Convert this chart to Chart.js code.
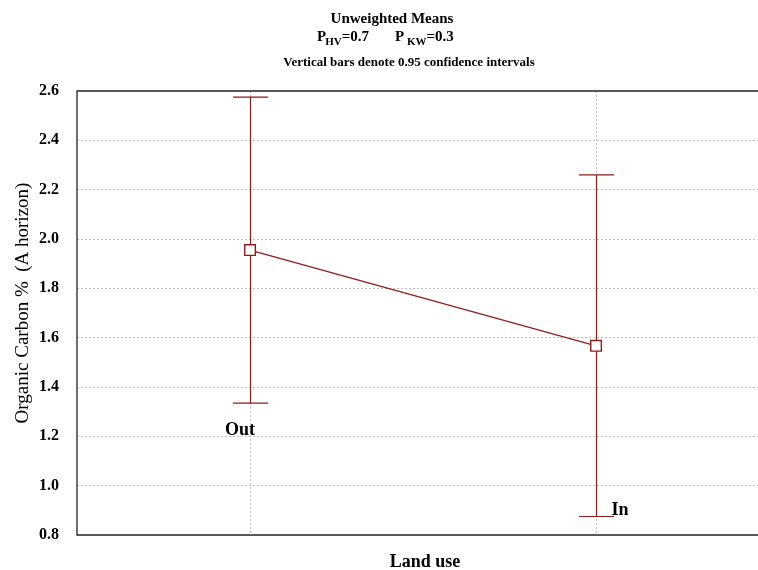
<!DOCTYPE html>
<html>
<head>
<meta charset="utf-8">
<script src="https://cdn.jsdelivr.net/npm/chart.js@4/dist/chart.umd.min.js"></script>
<style>
  html, body { margin: 0; padding: 0; background: #fff; overflow: hidden; }
  canvas { display: block; }
</style>
</head>
<body>
<canvas id="c" width="758" height="570"></canvas>
<script>
// Organic carbon (A horizon) by land use: means with 0.95 confidence intervals
const categories = ['Out', 'In'];
const means = [1.955, 1.567];
const ciLower = [1.335, 0.875];
const ciUpper = [2.575, 2.26];
const yMin = 0.8;
const yMax = 2.6;
const yStep = 0.2;
const headTitle = 'Unweighted Means';
const headNote = 'Vertical bars denote 0.95 confidence intervals';
const pStats = [['P', 'HV', '=0.7'], ['P ', 'KW', '=0.3']];
const yTitle = 'Organic Carbon %  (A horizon)';
const xTitle = 'Land use';

const RED = '#901c1c';
const SERIF = '"Liberation Serif", "Times New Roman", serif';
const GRID = '#c0c0c0';
const xPos = categories.map((_, i) => i + 0.5);

const decorations = {
  id: 'decorations',
  beforeDatasetsDraw(chart) {
    const { ctx, scales: { x, y } } = chart;
    ctx.save();
    ctx.strokeStyle = RED;
    ctx.lineWidth = 1.2;
    categories.forEach((c, i) => {
      const px = Math.round(x.getPixelForValue(xPos[i])) + 0.5;
      const lo = y.getPixelForValue(ciLower[i]);
      const hi = y.getPixelForValue(ciUpper[i]);
      ctx.beginPath();
      ctx.moveTo(px, lo); ctx.lineTo(px, hi);
      ctx.moveTo(px - 17.5, hi); ctx.lineTo(px + 17.5, hi);
      ctx.moveTo(px - 17.5, lo); ctx.lineTo(px + 17.5, lo);
      ctx.stroke();
    });
    ctx.restore();
  },
  afterDraw(chart) {
    const { ctx, chartArea: a, scales: { x, y } } = chart;
    ctx.save();
    // frame: left, top, bottom
    ctx.strokeStyle = '#222';
    ctx.lineWidth = 1.3;
    ctx.beginPath();
    ctx.moveTo(chart.width + 2, a.top); ctx.lineTo(a.left, a.top);
    ctx.lineTo(a.left, a.bottom); ctx.lineTo(chart.width + 2, a.bottom);
    ctx.stroke();

    ctx.fillStyle = '#000';
    // category names next to the lower whisker caps
    ctx.font = 'bold 18px ' + SERIF;
    ctx.textAlign = 'center';
    ctx.textBaseline = 'middle';
    const offs = [[-10, 27], [24, -6]];
    categories.forEach((c, i) => {
      const px = x.getPixelForValue(xPos[i]);
      const lo = y.getPixelForValue(ciLower[i]);
      ctx.fillText(c, px + offs[i][0], lo + offs[i][1]);
    });

    // heading
    ctx.textBaseline = 'alphabetic';
    ctx.font = 'bold 15px ' + SERIF;
    ctx.fillText(headTitle, 392, 23);
    ctx.font = 'bold 13px ' + SERIF;
    ctx.fillText(headNote, 409, 66);

    // test statistics with subscripts
    ctx.textAlign = 'left';
    const starts = [317, 395];
    pStats.forEach((parts, k) => {
      let cx = starts[k];
      ctx.font = 'bold 15px ' + SERIF;
      ctx.fillText(parts[0], cx, 41);
      cx += ctx.measureText(parts[0]).width;
      ctx.font = 'bold 11px ' + SERIF;
      ctx.fillText(parts[1], cx - 1, 45);
      cx += ctx.measureText(parts[1]).width - 1;
      ctx.font = 'bold 15px ' + SERIF;
      ctx.fillText(parts[2], cx, 41);
    });

    // axis titles
    ctx.textAlign = 'center';
    ctx.textBaseline = 'middle';
    ctx.font = 'bold 18px ' + SERIF;
    ctx.fillText(xTitle, 425, 562);
    ctx.font = '19px ' + SERIF;
    ctx.translate(23, 303);
    ctx.rotate(-Math.PI / 2);
    ctx.fillText(yTitle, 0, 0);
    ctx.restore();
  }
};

new Chart(document.getElementById('c'), {
  type: 'line',
  data: {
    datasets: [{
      data: categories.map((c, i) => ({ x: xPos[i], y: means[i] })),
      borderColor: RED,
      borderWidth: 1.2,
      pointStyle: 'rect',
      pointRadius: 7.5,
      pointBorderWidth: 1.4,
      pointBackgroundColor: '#fff',
      pointBorderColor: RED,
      tension: 0
    }]
  },
  plugins: [decorations],
  options: {
    responsive: false,
    animation: false,
    layout: { autoPadding: false, padding: { top: 91, right: 0, bottom: 0, left: 0 } },
    plugins: { legend: { display: false }, tooltip: { enabled: false }, title: { display: false } },
    scales: {
      x: {
        type: 'linear',
        min: 0,
        max: 1.968,
        afterFit(s) { s.height = 35; },
        afterBuildTicks(s) { s.ticks = xPos.map(v => ({ value: v })); },
        ticks: { display: false },
        grid: { color: GRID, lineWidth: 1, drawTicks: false },
        border: { display: false, dash: [2, 2] }
      },
      y: {
        min: yMin,
        max: yMax,
        afterFit(s) { s.width = 77; },
        ticks: {
          stepSize: yStep,
          padding: 18,
          color: '#000',
          font: { family: SERIF, size: 16, weight: 'bold' },
          callback: v => v.toFixed(1)
        },
        grid: {
          drawTicks: false,
          lineWidth: 1,
          color: ctx => (Math.abs(ctx.tick.value - yMin) < 1e-6 || Math.abs(ctx.tick.value - yMax) < 1e-6) ? 'rgba(0,0,0,0)' : GRID
        },
        border: { display: false, dash: [2, 2] }
      }
    }
  }
});
</script>
</body>
</html>
